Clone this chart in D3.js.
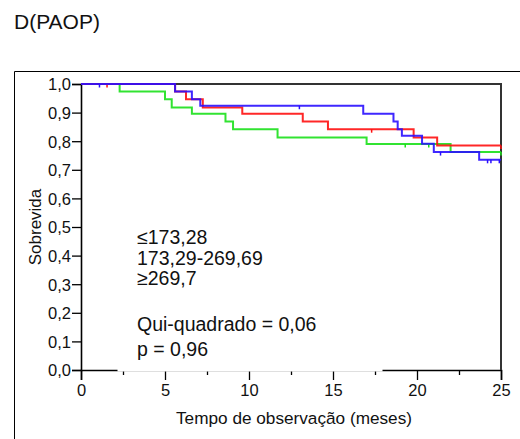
<!DOCTYPE html>
<html>
<head>
<meta charset="utf-8">
<script src="https://cdn.jsdelivr.net/npm/d3@7"></script>
<style>
  body { margin: 0; background: #fff; }
  svg text { font-family: Arial, "Liberation Sans", sans-serif; fill: #111; }
</style>
</head>
<body>
<div id="chart"></div>
<script>
const WIDTH = 520;
const HEIGHT = 439;
const PLOT = {left: 81, right: 501, top: 84, bottom: 370};

// survival curves: event times (months) and survival after each step
const greenTimes = [0, 2.3, 5.0, 5.4, 6.6, 8.6, 9.05, 11.7, 17.0, 22.0];
const greenSurv  = [1.0, 0.974, 0.947, 0.918, 0.896, 0.869, 0.842, 0.813, 0.79, 0.762];
const greenCensored = [19.3, 20.7, 25];

const redTimes = [0, 5.6, 6.25, 7.25, 9.6, 13.2, 14.7, 19.8, 21.2];
const redSurv  = [1.0, 0.974, 0.947, 0.918, 0.896, 0.869, 0.842, 0.813, 0.785];
const redCensored = [1.55, 17.3, 25];

const blueTimes = [0, 5.6, 6.6, 7.1, 16.8, 18.6, 18.85, 19.1, 20.3, 21.0, 23.7];
const blueSurv  = [1.0, 0.974, 0.947, 0.924, 0.896, 0.869, 0.842, 0.819, 0.791, 0.762, 0.735];
const blueCensored = [1.1, 13.0, 21.4, 24.2, 24.4, 24.9];

const legendLines = ["≤173,28", "173,29-269,69", "≥269,7"];
const statLines = ["Qui-quadrado = 0,06", "p = 0,96"];

const X_MAX = 25;
const xMajor = [0, 5, 10, 15, 20, 25];
const xMinor = [2.5, 7.5, 12.5, 17.5, 22.5];
const yTicks = d3.range(0, 11).map(d => d / 10);

const svg = d3.select("#chart").append("svg")
  .attr("width", WIDTH)
  .attr("height", HEIGHT);

// title
svg.append("text")
  .attr("x", 14)
  .attr("y", 29)
  .attr("font-size", "21px")
  .text("D(PAOP)");

// outer frame (runs off the page to the right and bottom)
svg.append("path")
  .attr("d", `M14.5,${HEIGHT + 5} V71.5 H${WIDTH + 5}`)
  .attr("fill", "none")
  .attr("stroke", "#000")
  .attr("stroke-width", 1);

const x = d3.scaleLinear().domain([0, X_MAX]).range([PLOT.left, PLOT.right]);
const y = d3.scaleLinear().domain([0, 1]).range([PLOT.bottom, PLOT.top]);

const comma = d => d3.format(".1f")(d).replace(".", ",");

// y axis
const yAxis = svg.append("g")
  .attr("transform", `translate(${PLOT.left},0)`)
  .call(d3.axisLeft(y).tickValues(yTicks).tickFormat(comma).tickSize(9).tickPadding(1));
yAxis.select(".domain").attr("stroke-width", 1.6);
yAxis.selectAll(".tick line").attr("stroke-width", 1.3);
yAxis.selectAll("text").attr("font-size", "16.5px").attr("dy", "0.36em");

// x axis
const xAxis = svg.append("g")
  .attr("transform", `translate(0,${PLOT.bottom})`)
  .call(d3.axisBottom(x).tickValues(xMajor).tickSize(10).tickPadding(4).tickFormat(d3.format("d")));
xAxis.select(".domain").attr("stroke-width", 1.6);
xAxis.selectAll(".tick line").attr("stroke-width", 1.3);
xAxis.selectAll("text").attr("font-size", "16.5px");

svg.append("g")
  .attr("transform", `translate(0,${PLOT.bottom})`)
  .call(d3.axisBottom(x).tickValues(xMinor).tickSize(5).tickFormat(""))
  .call(g => g.select(".domain").remove())
  .selectAll(".tick line").attr("stroke-width", 1.3);

// top and right frame of the plot
svg.append("path")
  .attr("d", `M${PLOT.left},${PLOT.top} H${PLOT.right} V${PLOT.bottom}`)
  .attr("fill", "none")
  .attr("stroke", "#333")
  .attr("stroke-width", 2);

// axis titles
svg.append("text")
  .attr("x", 294)
  .attr("y", 424)
  .attr("text-anchor", "middle")
  .attr("font-size", "17.2px")
  .text("Tempo de observação (meses)");

svg.append("text")
  .attr("transform", `translate(41,${(PLOT.top + PLOT.bottom) / 2}) rotate(-90)`)
  .attr("text-anchor", "middle")
  .attr("font-size", "17px")
  .text("Sobrevida");

// white legend box that hides part of the x axis line
svg.append("rect")
  .attr("x", 117.5)
  .attr("y", 205)
  .attr("width", 265)
  .attr("height", 166.5)
  .attr("fill", "#fff");

// curves
const step = d3.line()
  .x(d => x(d[0]))
  .y(d => y(d[1]))
  .curve(d3.curveStepAfter);

function survAt(times, surv, t) {
  let s = surv[0];
  times.forEach((tt, i) => { if (tt <= t) s = surv[i]; });
  return s;
}

const series = [
  {times: greenTimes, surv: greenSurv, cens: greenCensored, color: "#1be01b"},
  {times: redTimes, surv: redSurv, cens: redCensored, color: "#ff1010"},
  {times: blueTimes, surv: blueSurv, cens: blueCensored, color: "#2a10ff"}
];

series.forEach(s => {
  const pts = s.times.map((t, i) => [t, s.surv[i]]);
  pts.push([X_MAX, s.surv[s.surv.length - 1]]);
  svg.append("path")
    .datum(pts)
    .attr("d", step)
    .attr("fill", "none")
    .attr("stroke", s.color)
    .attr("stroke-width", 2)
    .attr("stroke-opacity", 0.9);

  svg.selectAll(null)
    .data(s.cens)
    .enter().append("line")
    .attr("x1", d => x(d))
    .attr("x2", d => x(d))
    .attr("y1", d => y(survAt(s.times, s.surv, d)))
    .attr("y2", d => y(survAt(s.times, s.surv, d)) + 3.5)
    .attr("stroke", s.color)
    .attr("stroke-width", 1.5);
});

// legend text
svg.selectAll(".leg")
  .data(legendLines)
  .enter().append("text")
  .attr("class", "leg")
  .attr("x", 137)
  .attr("y", (d, i) => 244 + i * 20.5)
  .attr("font-size", "19.5px")
  .text(d => d);

svg.selectAll(".stat")
  .data(statLines)
  .enter().append("text")
  .attr("class", "stat")
  .attr("x", 137)
  .attr("y", (d, i) => 331 + i * 25)
  .attr("font-size", "19.5px")
  .text(d => d);
</script>
</body>
</html>
